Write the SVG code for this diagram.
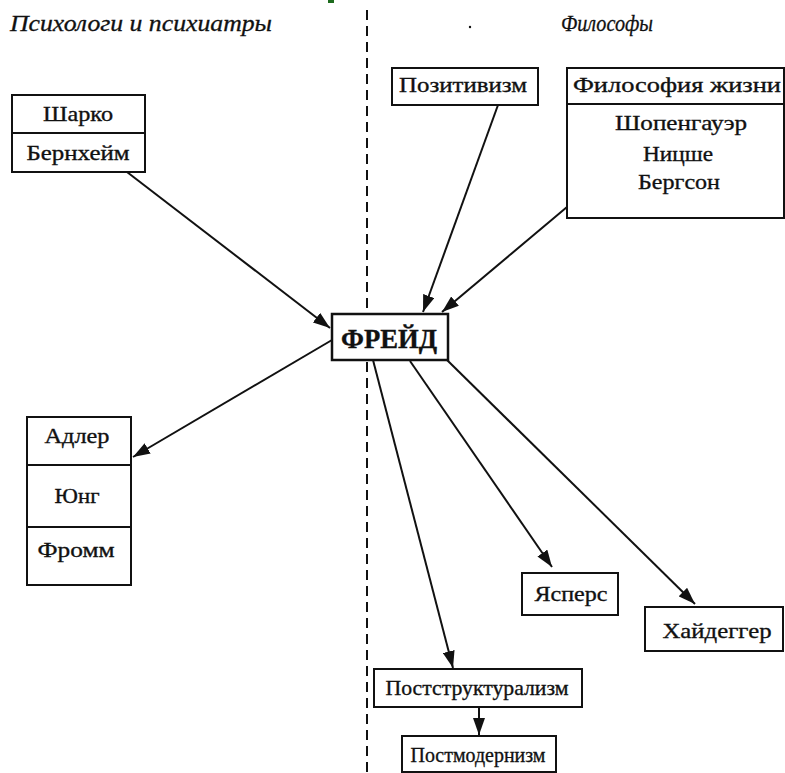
<svg xmlns="http://www.w3.org/2000/svg" width="785" height="773" viewBox="0 0 785 773">
<style>
.box{fill:#fff;stroke:#111;stroke-width:2}
.div{stroke:#111;stroke-width:2}
.t{font-family:"Liberation Serif","DejaVu Serif",serif;font-size:22px;fill:#111;stroke:#111;stroke-width:0.35;text-anchor:middle}
.h{font-family:"Liberation Serif","DejaVu Serif",serif;font-size:23px;font-style:italic;fill:#111;stroke:#111;stroke-width:0.3}
.c{stroke:#111;stroke-width:2;fill:none;marker-end:url(#ah)}
</style>
<defs>
<marker id="ah" markerUnits="userSpaceOnUse" markerWidth="18" markerHeight="12" refX="17" refY="6" orient="auto">
<path d="M0,0 L17,6 L0,12 Z" fill="#111"/>
</marker>
</defs>
<rect width="785" height="773" fill="#fff"/>
<rect x="328" y="0" width="6" height="3" fill="#1d6b1d"/>
<g id="headers">
<text class="h" x="10" y="31" textLength="262" lengthAdjust="spacingAndGlyphs">Психологи и психиатры</text>
<text class="h" x="561" y="31" textLength="92" lengthAdjust="spacingAndGlyphs">Философы</text>
<circle cx="470" cy="27" r="1.2" fill="#111"/>
</g>
<line id="divider" x1="367" y1="10" x2="367" y2="773" stroke="#111" stroke-width="2" stroke-dasharray="10 6"/>
<g id="connectors">
<line class="c" x1="127" y1="172" x2="330" y2="328"/>
<line class="c" x1="498" y1="105" x2="423" y2="312"/>
<line class="c" x1="567" y1="207" x2="442" y2="312"/>
<line class="c" x1="332" y1="340" x2="133" y2="457"/>
<line class="c" x1="373" y1="360" x2="453" y2="668"/>
<line class="c" x1="410" y1="361" x2="552" y2="567"/>
<line class="c" x1="447" y1="360" x2="695" y2="604"/>
<line class="c" x1="479" y1="707" x2="479" y2="735"/>
</g>
<g id="sharko">
<rect class="box" x="12" y="95" width="133" height="77"/>
<line class="div" x1="12" y1="133" x2="145" y2="133"/>
<text class="t" x="78" y="121" textLength="70" lengthAdjust="spacingAndGlyphs">Шарко</text>
<text class="t" x="78" y="160" textLength="103" lengthAdjust="spacingAndGlyphs">Бернхейм</text>
</g>
<g id="positivism">
<rect class="box" x="392" y="68" width="146" height="37"/>
<text class="t" x="463" y="92" textLength="128" lengthAdjust="spacingAndGlyphs">Позитивизм</text>
</g>
<g id="lifephil">
<rect class="box" x="567" y="68" width="217" height="150"/>
<line class="div" x1="567" y1="104" x2="784" y2="104"/>
<text class="t" x="677" y="92" textLength="208" lengthAdjust="spacingAndGlyphs">Философия жизни</text>
<text class="t" x="681" y="130" textLength="132" lengthAdjust="spacingAndGlyphs">Шопенгауэр</text>
<text class="t" x="678" y="161" textLength="70" lengthAdjust="spacingAndGlyphs">Ницше</text>
<text class="t" x="679" y="189" textLength="82" lengthAdjust="spacingAndGlyphs">Бергсон</text>
</g>
<g id="freud">
<rect class="box" x="332" y="314" width="116" height="46" style="stroke-width:2.5"/>
<text class="t" x="389" y="348" textLength="96" lengthAdjust="spacingAndGlyphs" style="font-size:27px;font-weight:bold">ФРЕЙД</text>
</g>
<g id="adler">
<rect class="box" x="27" y="417" width="104" height="168"/>
<line class="div" x1="27" y1="465" x2="131" y2="465"/>
<line class="div" x1="27" y1="527" x2="131" y2="527"/>
<text class="t" x="77" y="443" textLength="65" lengthAdjust="spacingAndGlyphs">Адлер</text>
<text class="t" x="77" y="503" textLength="45" lengthAdjust="spacingAndGlyphs">Юнг</text>
<text class="t" x="76" y="557" textLength="77" lengthAdjust="spacingAndGlyphs">Фромм</text>
</g>
<g id="jaspers">
<rect class="box" x="522" y="573" width="96" height="42"/>
<text class="t" x="571" y="601" textLength="73" lengthAdjust="spacingAndGlyphs">Ясперс</text>
</g>
<g id="heidegger">
<rect class="box" x="645" y="607" width="138" height="44"/>
<text class="t" x="717" y="638" textLength="109" lengthAdjust="spacingAndGlyphs">Хайдеггер</text>
</g>
<g id="poststruct">
<rect class="box" x="374" y="669" width="208" height="38"/>
<text class="t" x="477" y="695" textLength="183" lengthAdjust="spacingAndGlyphs">Постструктурализм</text>
</g>
<g id="postmodern">
<rect class="box" x="402" y="736" width="154" height="36"/>
<text class="t" x="478" y="762" textLength="135" lengthAdjust="spacingAndGlyphs">Постмодернизм</text>
</g>
</svg>
